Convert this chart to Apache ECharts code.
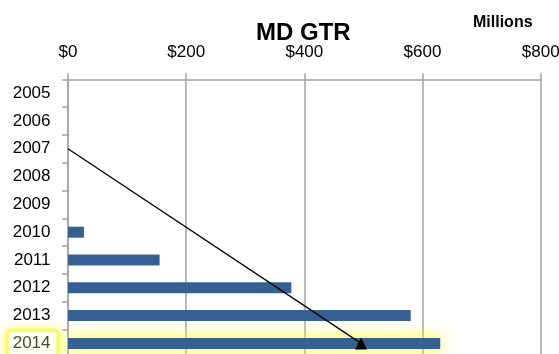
<!DOCTYPE html>
<html>
<head>
<meta charset="utf-8">
<script src="https://cdn.jsdelivr.net/npm/echarts@6/dist/echarts.min.js"></script>
<style>
html,body{margin:0;padding:0;background:#fff;}
#c{width:559px;height:354px;}
</style>
</head>
<body>
<div id="c"></div>
<script>
const years = ['2005','2006','2007','2008','2009','2010','2011','2012','2013','2014'];
const gtr = [0, 0, 0, 0, 0, 27, 155, 378, 580, 630];
const xTicks = [0, 200, 400, 600, 800];
const highlightYear = '2014';
// arrow annotation: [value, category index]
const arrowStart = [0, 2.09];
const arrowEnd = [496, 8.78];

const chart = echarts.init(document.getElementById('c'), null, {renderer: 'canvas'});
const font = "'Liberation Sans', Arial, sans-serif";

const barData = gtr.map((v, i) => {
  if (years[i] === highlightYear) {
    return {
      value: v,
      itemStyle: {
        color: '#376092',
        shadowBlur: 16,
        shadowColor: 'rgba(255,255,0,1)'
      }
    };
  }
  return v;
});

chart.setOption({
  animation: false,
  backgroundColor: '#ffffff',
  title: [
    {
      text: 'MD GTR',
      left: 256,
      top: 21,
      padding: 0,
      textStyle: {fontFamily: font, fontWeight: 'bold', fontSize: 24, color: '#000'}
    },
    {
      text: 'Millions',
      left: 473,
      top: 15,
      padding: 0,
      textStyle: {fontFamily: font, fontWeight: 'bold', fontSize: 16, color: '#000'}
    }
  ],
  grid: {
    left: 68,
    right: 18.3,
    top: 79.3,
    bottom: -3.3,
    containLabel: false,
    outerBoundsMode: 'none'
  },
  xAxis: {
    type: 'value',
    position: 'top',
    min: xTicks[0],
    max: xTicks[xTicks.length - 1],
    interval: 200,
    axisLine: {show: true, lineStyle: {color: '#a3a3a3', width: 1.5}},
    axisTick: {show: true, length: 6, inside: false, lineStyle: {color: '#a3a3a3', width: 1.5}},
    splitLine: {show: true, lineStyle: {color: '#a3a3a3', width: 1.5}},
    axisLabel: {
      margin: 18,
      fontFamily: font,
      fontSize: 17,
      color: '#000',
      showMinLabel: true,
      showMaxLabel: true,
      formatter: v => '$' + v
    }
  },
  yAxis: {
    type: 'category',
    data: years,
    inverse: true,
    axisLine: {show: true, lineStyle: {color: '#a3a3a3', width: 1.5}},
    axisTick: {show: true, length: 6, inside: false, lineStyle: {color: '#a3a3a3', width: 1.5}},
    splitLine: {show: false},
    axisLabel: {
      margin: 11.5,
      interval: 0,
      showMinLabel: true,
      showMaxLabel: true,
      hideOverlap: false,
      fontFamily: font,
      fontSize: 17,
      color: '#000',
      formatter: v => (v === highlightYear ? '{hl|' + v + '}' : '{n|' + v + '}'),
      rich: {
        n: {
          fontFamily: font,
          fontSize: 17,
          color: '#000',
          padding: [3, 6, 3, 4],
          borderWidth: 3,
          borderColor: 'transparent'
        },
        hl: {
          fontFamily: font,
          fontSize: 17,
          color: '#4a4a38',
          padding: [3, 6, 3, 4],
          backgroundColor: '#fffff0',
          borderColor: '#f8f47a',
          borderWidth: 3,
          borderRadius: 3,
          shadowBlur: 8,
          shadowColor: 'rgba(255,255,60,1)'
        }
      }
    }
  },
  series: [
    {
      type: 'bar',
      data: barData,
      barWidth: 11,
      itemStyle: {color: '#376092'},
      markLine: {
        silent: true,
        animation: false,
        symbol: ['none', 'triangle'],
        symbolSize: 12,
        symbolRotate: 0,
        label: {show: false},
        lineStyle: {color: '#000', width: 1.3, type: 'solid'},
        emphasis: {disabled: true},
        data: [[{coord: arrowStart}, {coord: arrowEnd}]]
      }
    }
  ]
});
</script>
</body>
</html>
